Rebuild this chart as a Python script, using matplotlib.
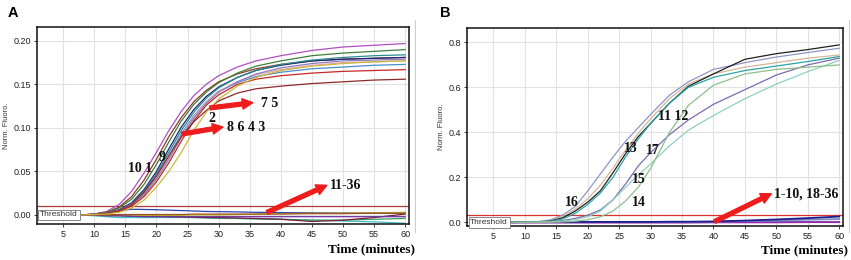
import matplotlib
matplotlib.use("Agg")
import matplotlib.pyplot as plt
from matplotlib.lines import Line2D

t = [8, 10, 12, 14, 16, 18, 20, 22, 24, 26, 28, 30, 33, 36, 40, 45, 50, 55, 60]

# ---- panel A, positive samples 1-10
a_pos = {
    "#b04fc4": [0, .001, .004, .012, .027, .048, .072, .097, .119, .137, .150, .160, .170, .177, .183, .189, .193, .195, .197],
    "#8b3a2a": [0, .001, .003, .009, .021, .040, .064, .090, .112, .130, .143, .153, .162, .168, .173, .177, .179, .180, .181],
    "#3d7f3d": [0, .001, .003, .008, .018, .035, .058, .084, .108, .127, .141, .152, .163, .171, .177, .183, .186, .188, .190],
    "#1a237e": [0, .0005, .002, .006, .014, .029, .050, .076, .101, .121, .136, .147, .158, .166, .172, .177, .179, .180, .181],
    "#2b8c8c": [0, .0005, .002, .005, .013, .027, .047, .072, .097, .118, .134, .146, .158, .166, .173, .178, .181, .183, .184],
    "#4a8ccf": [0, .0005, .002, .005, .012, .025, .044, .068, .093, .114, .130, .142, .152, .159, .164, .168, .170, .172, .173],
    "#e3a6b8": [0, .0005, .002, .005, .012, .024, .042, .066, .091, .113, .130, .142, .153, .161, .167, .172, .175, .176, .177],
    "#8a7fb8": [0, .0005, .002, .005, .011, .023, .041, .064, .089, .111, .128, .141, .153, .162, .169, .174, .177, .178, .179],
    "#c62828": [0, .0005, .002, .004, .010, .021, .038, .060, .085, .108, .126, .138, .150, .156, .160, .163, .165, .166, .167],
    "#8e2a2a": [0, .0005, .002, .005, .012, .026, .045, .068, .090, .107, .120, .131, .140, .145, .148, .151, .153, .155, .156],
    "#c9b83a": [0, .0005, .001, .003, .008, .017, .032, .050, .072, .097, .118, .133, .148, .158, .166, .171, .174, .176, .177],
}
# ---- panel A, negatives 11-36
a_neg = {
    "#3040b0": [0, .001, .003, .005, .0065, .0063, .006, .0055, .005, .0045, .004, .0038, .0035, .003, .0027, .0025, .0022, .002, .002],
    "#40c0d0": [0, -.001, -.002, -.003, -.003, -.003, -.003, -.003, -.003, -.003, -.0035, -.004, -.004, -.0045, -.005, -.006, -.007, -.008, -.0095],
    "#3aa060": [0, -.0005, -.001, -.001, -.0015, -.002, -.002, -.002, -.0025, -.003, -.003, -.0035, -.004, -.0045, -.005, -.006, -.006, -.005, -.004],
    "#7b1f3a": [0, 0, -.0005, -.0005, -.001, -.001, -.0015, -.002, -.002, -.0025, -.003, -.003, -.0035, -.004, -.005, -.0075, -.006, -.003, .001],
    "#b5b530": [0, 0, 0, 0, -.0005, -.0005, -.0005, -.0005, -.0005, 0, 0, 0, .0005, .001, .0015, .002, .002, .0025, .003],
    "#7030a0": [0, 0, -.001, -.001, -.0015, -.002, -.002, -.002, -.002, -.002, -.002, -.002, -.002, -.002, -.002, -.002, -.002, -.002, -.002],
    "#a05020": [0, 0, 0, .0005, .0005, .0005, .0005, .0005, .0005, .001, .001, .001, .001, .001, .001, .0015, .0015, .002, .002],
}

# ---- panel B, positive samples 11-17
b_pos = {
    "#8f95c8": [0, .001, .003, .011, .032, .070, .140, .215, .290, .360, .420, .480, .565, .625, .680, .710, .735, .755, .774],
    "#d4b896": [0, .001, .003, .008, .025, .058, .105, .165, .240, .320, .395, .460, .550, .615, .660, .690, .710, .730, .744],
    "#202020": [0, .001, .002, .006, .020, .050, .090, .140, .220, .305, .380, .440, .530, .605, .660, .725, .750, .768, .789],
    "#2aa5a5": [0, .001, .002, .005, .015, .040, .080, .130, .200, .290, .370, .440, .530, .600, .645, .675, .695, .715, .737],
    "#7b6bb0": [0, 0, .001, .003, .008, .018, .032, .055, .100, .170, .250, .310, .390, .455, .525, .590, .655, .700, .730],
    "#8fcfc0": [0, 0, .001, .002, .005, .012, .025, .050, .100, .155, .210, .260, .340, .410, .475, .550, .615, .670, .720],
    "#8cc08c": [0, 0, 0, .001, .002, .005, .012, .025, .050, .095, .155, .240, .400, .520, .610, .660, .680, .690, .700],
}
# ---- panel B, negatives 1-10, 18-36
b_neg = {
    "#2a9d8f": [0, 0, 0, 0, 0, 0, 0, 0, 0, 0, 0, 0, 0, 0, 0, 0, 0, 0, 0],
    "#9c27b0": [0, -.001, -.001, -.001, -.001, -.001, -.001, -.001, -.001, -.001, -.001, -.001, -.001, -.001, 0, 0, 0, .001, .001],
    "#7d86c4": [0, .001, .001, .001, .001, .001, .001, .001, .001, .001, .001, .001, .002, .002, .003, .006, .009, .012, .015],
    "#1c1c8c": [0, .002, .002, .002, .002, .002, .002, .002, .002, .002, .002, .002, .003, .003, .004, .008, .013, .019, .026],
}

xticks = [5, 10, 15, 20, 25, 30, 35, 40, 45, 50, 55, 60]
a_yticks = [0.0, 0.05, 0.10, 0.15, 0.20]
b_yticks = [0.0, 0.2, 0.4, 0.6, 0.8]

serif = "Liberation Serif"
sans = "Liberation Sans"

fig = plt.figure(figsize=(8.51, 2.6), dpi=100)
axA = fig.add_axes([0.0435, 0.1385, 0.437, 0.7577])
axB = fig.add_axes([0.5488, 0.1308, 0.4418, 0.7615])


def style(ax, yticks, fmt, ylim, thresh, tcol):
    ax.set_xlim(0.8, 60.6)
    ax.set_ylim(*ylim)
    ax.set_xticks(xticks)
    ax.set_yticks(yticks)
    ax.set_yticklabels([fmt.format(v) for v in yticks])
    ax.grid(True, color="#e2e2e2", lw=0.8)
    ax.set_axisbelow(True)
    ax.tick_params(labelsize=6.5, length=2.5, width=0.6, colors="#222222", pad=2)
    for lab in ax.get_xticklabels() + ax.get_yticklabels():
        lab.set_fontfamily(sans)
    for s in ax.spines.values():
        s.set_color("#111111")
        s.set_linewidth(1.1)
    ax.set_ylabel("Norm. Fluoro.", fontsize=5.5, family=sans, color="#333333", labelpad=2)
    ax.axhline(thresh, color=tcol, lw=0.9, zorder=1)
    ax.text(1.3, 0, "Threshold", fontsize=6, family=sans, color="#333333", va="center", ha="left",
            bbox=dict(boxstyle="square,pad=0.2", fc="white", ec="#888888", lw=0.7), zorder=6)


for c, v in a_neg.items():
    axA.plot(t, v, color=c, lw=0.9)
for c, v in a_pos.items():
    axA.plot(t, v, color=c, lw=0.9)
style(axA, a_yticks, "{:.2f}", (-0.0104, 0.216), 0.01, "#b03a3a")

for c, v in b_neg.items():
    axB.plot(t, v, color=c, lw=1.3)
for c, v in b_pos.items():
    axB.plot(t, v, color=c, lw=0.9)
style(axB, b_yticks, "{:.1f}", (-0.016, 0.864), 0.035, "#d83232")

arrow = dict(facecolor="#ee1c1c", edgecolor="#ee1c1c", width=2.8, headwidth=7.5, headlength=7.5, shrink=0)
lab = dict(fontsize=10, family=serif, fontweight="bold", color="#111111")

# panel A annotations
axA.annotate("", xy=(35.5, 0.129), xytext=(28.6, 0.123), arrowprops=arrow)
axA.text(36.8, 0.128, "7 5", va="center", **lab)
axA.text(28.3, 0.111, "2", va="center", **lab)
axA.annotate("", xy=(30.7, 0.101), xytext=(24.1, 0.093), arrowprops=arrow)
axA.text(31.3, 0.100, "8 6 4 3", va="center", **lab)
axA.text(15.4, 0.053, "10 1", va="center", **lab)
axA.text(20.4, 0.066, "9", va="center", **lab)
axA.annotate("", xy=(47.4, 0.034), xytext=(37.8, 0.003), arrowprops=arrow)
axA.text(47.9, 0.034, "11-36", va="center", **lab)

# panel B annotations
axB.text(16.4, 0.087, "16", va="center", **lab)
axB.text(25.8, 0.33, "13", va="center", **lab)
axB.text(29.3, 0.32, "17", va="center", **lab)
axB.text(27.0, 0.19, "15", va="center", **lab)
axB.text(27.0, 0.087, "14", va="center", **lab)
axB.text(31.2, 0.47, "11 12", va="center", **lab)
axB.annotate("", xy=(49.2, 0.127), xytext=(40.2, 0.004), arrowprops=arrow)
axB.text(49.6, 0.127, "1-10, 18-36", va="center", **lab)

# panel letters and axis titles
fig.text(8 / 851, 1 - 13 / 260, "A", fontsize=10.5, fontweight="bold", family=sans, va="center")
fig.text(440 / 851, 1 - 13 / 260, "B", fontsize=10.5, fontweight="bold", family=sans, va="center")
fig.text(415 / 851, 1 - 249 / 260, "Time (minutes)", fontsize=9.5, fontweight="bold", family=serif,
         ha="right", va="center")
fig.text(848 / 851, 1 - 250 / 260, "Time (minutes)", fontsize=9.5, fontweight="bold", family=serif,
         ha="right", va="center")

# thin gray screenshot borders at the right of each panel
for xp in (415 / 851, 848.5 / 851):
    fig.add_artist(Line2D([xp, xp], [1 - 232 / 260, 1 - 20 / 260], color="#cccccc", lw=0.8))

fig.savefig("out.png", dpi=100)
